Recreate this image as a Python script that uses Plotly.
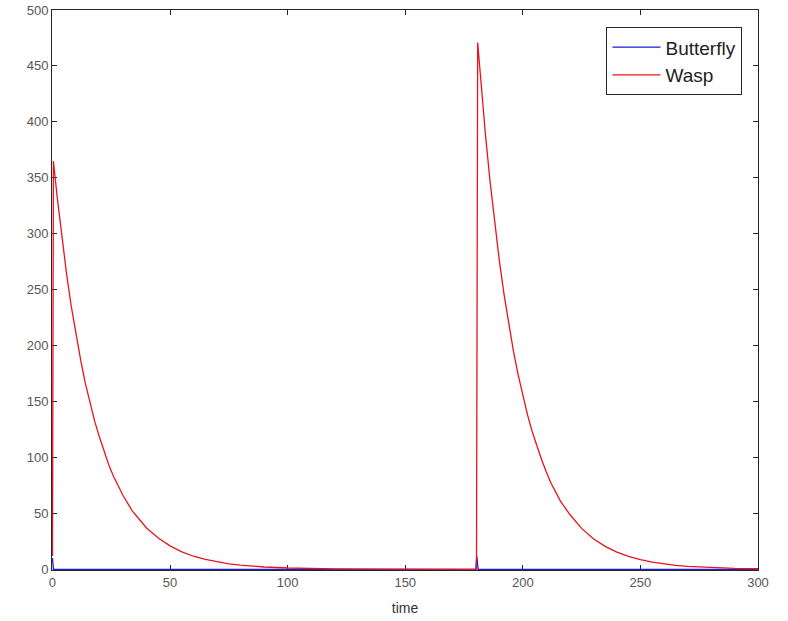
import plotly.graph_objects as go

# Wasp population
wasp_t = [0, 0.4, 2, 4, 6, 8, 10, 12, 14, 16, 18, 20, 22, 24, 26, 28, 30, 32, 34, 36, 38, 40,
          45, 50, 55, 60, 65, 70, 75, 80, 90, 100, 110, 120, 140, 160, 180, 180.3, 180.8,
          182, 184, 186, 188, 190, 192, 194, 196, 198, 200, 202, 204, 206, 208, 210, 212, 214,
          216, 218, 220, 225, 230, 235, 240, 245, 250, 255, 260, 265, 270, 280, 290, 300]
wasp_v = [12, 365, 333, 297, 264, 235, 210, 187, 166, 148, 132, 118, 105, 93, 83, 74, 66, 59, 52, 47, 42, 37,
          28, 21, 15.6, 11.7, 8.8, 6.6, 4.9, 3.7, 2.1, 1.2, 0.7, 0.4, 0.1, 0.05, 0, 0, 471,
          439, 391, 348, 310, 276, 246, 219, 195, 174, 155, 138, 123, 110, 98, 87, 77, 69,
          61, 55, 49, 36.6, 27.4, 20.5, 15.4, 11.5, 8.6, 6.5, 4.8, 3.6, 2.7, 1.5, 0.85, 0.5]

# Butterfly population
butterfly_t = [0, 0.4, 180, 180.4, 181, 300]
butterfly_v = [10, 0, 0, 12, 0, 0]

x_ticks = [0, 50, 100, 150, 200, 250, 300]
y_ticks = [0, 50, 100, 150, 200, 250, 300, 350, 400, 450, 500]

fig = go.Figure()
fig.add_trace(go.Scatter(x=butterfly_t, y=butterfly_v, mode="lines", name="Butterfly",
                         line=dict(color="#1a1ad9", width=1.3)))
fig.add_trace(go.Scatter(x=wasp_t, y=wasp_v, mode="lines", name="Wasp",
                         line=dict(color="#e8141c", width=1.3)))

axis_common = dict(
    showgrid=False, zeroline=False, showline=True, linecolor="#262626", linewidth=1,
    mirror="ticks", ticks="inside", ticklen=5, tickcolor="#262626",
    tickfont=dict(family="Liberation Sans, Arial", size=13, color="#555555"),
    layer="below traces", automargin=False,
)

fig.update_layout(
    width=788, height=621,
    margin=dict(l=52, r=30, t=10, b=51),
    paper_bgcolor="white", plot_bgcolor="white",
    xaxis=dict(range=[-0.2, 300], tickvals=x_ticks,
               title=dict(text="time", font=dict(family="Liberation Sans, Arial", size=14, color="#333333"),
                          standoff=14),
               **axis_common),
    yaxis=dict(range=[-0.6, 500], tickvals=y_ticks, **axis_common),
    showlegend=True,
    legend=dict(x=0.978, y=0.969, xanchor="right", yanchor="top",
                bgcolor="white", bordercolor="#262626", borderwidth=1,
                font=dict(family="Liberation Sans, Arial", size=19, color="#222222"),
                tracegroupgap=0, itemwidth=48),
)

fig.write_html("out.html")
